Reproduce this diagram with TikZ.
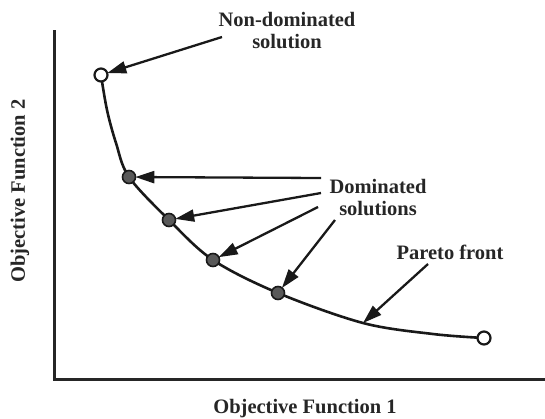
\documentclass[tikz,border=0pt]{standalone}
\usepackage{fontspec}
\setmainfont{Liberation Serif}
\usetikzlibrary{arrows.meta}
\begin{document}
\begin{tikzpicture}[x=1pt,y=-1pt,
  lbl/.style={font=\bfseries\fontsize{20.5}{22}\selectfont, inner sep=0pt, align=center, text=black!85},
  axisline/.style={line width=3pt, draw=black!85},
  front/.style={line width=2.6pt, draw=black!90},
  arr/.style={line width=2.3pt, draw=black!90, -{Triangle[length=19pt,width=12pt]}, shorten >=-1pt},
  opendot/.style={circle, draw=black!90, fill=white, line width=2.2pt, minimum size=13pt, inner sep=0pt},
  domdot/.style={circle, draw=black!90, fill=black!65, line width=1.6pt, minimum size=13pt, inner sep=0pt}]
\useasboundingbox (0,0) rectangle (545,418);
% axes
\coordinate (ytop) at (54,30);
\coordinate (orig) at (54,379);
\coordinate (xend) at (545,379);
\draw[axisline] (ytop) -- (orig) -- (xend);
\node[lbl, rotate=90] (ylab) at (20,191) {Objective Function 2};
\node[lbl] (xlab) at (305,409) {Objective Function 1};
% front
\draw[front] plot[smooth, tension=0.55] coordinates {(101,75) (107,110) (116,143) (129,177) (169,220) (213,260) (278,293) (363,323) (433,334) (484,338)};
\node[opendot] (nd1) at (101,75) {};
\node[opendot] (nd2) at (484,338) {};
\node[domdot] (d1) at (129,177) {};
\node[domdot] (d2) at (169,220) {};
\node[domdot] (d3) at (213,260) {};
\node[domdot] (d4) at (278,293) {};
\coordinate (pf) at (363,323);
% labels
\node[lbl] (ndl) at (287,31) {Non-dominated\\solution};
\node[lbl] (dsl) at (378,198) {Dominated\\solutions};
\node[lbl] (pfl) at (450,252) {Pareto front};
% arrows
\coordinate (a0) at (222,37);
\coordinate (a1) at (321,178);
\coordinate (a2) at (321,193);
\coordinate (a3) at (318,207);
\coordinate (a4) at (335,220);
\coordinate (a5) at (428,264);
\draw[arr] (a0) -- (nd1);
\draw[arr] (a1) -- (d1);
\draw[arr] (a2) -- (d2);
\draw[arr] (a3) -- (d3);
\draw[arr] (a4) -- (d4);
\draw[arr, shorten >=0pt] (a5) -- (pf);
\end{tikzpicture}
\end{document}
